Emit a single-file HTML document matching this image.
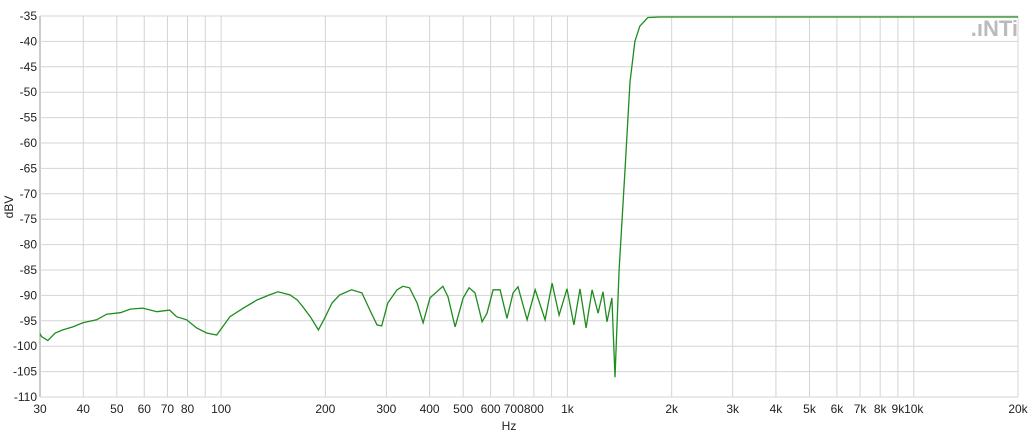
<!DOCTYPE html>
<html><head><meta charset="utf-8"><style>
body{margin:0;background:#fff;}
svg text{font-family:"Liberation Sans",sans-serif;font-size:12px;fill:#222;}
</style></head><body>
<svg id="chart" width="1034" height="438" xmlns="http://www.w3.org/2000/svg">
<g id="grid"></g>
<g id="xt"></g>
<g id="yt"></g>
<text x="509" y="430" text-anchor="middle">Hz</text>
<text transform="translate(13,207) rotate(-90)" text-anchor="middle">dBV</text>
<text x="1018" y="36" text-anchor="end" style="font-size:22px;font-weight:bold;fill:#bbb;">.ıNTi</text>
<path id="line" fill="none" stroke="#1e8c1e" stroke-width="1.3"/>
</svg>
<script>
const freqs=[30,30.3,31.6,33.2,34.9,37.3,39.9,43.7,46.7,51.2,54.7,59.4,65.3,71,74.4,79.5,85,90.8,97.1,101,106,116,127,138,146,158,166,172,181,191,199,209,220,238,255,269,282,291,303,322,335,350,368,383,401,437,452,474,500,520,541,567,586,610,639,669,697,720,765,807,862,903,946,997,1044,1087,1132,1178,1226,1267,1301,1344,1372,1410,1467,1516,1566,1618,1708,1850,20000];
const dbv=[-97.5,-98.1,-98.9,-97.4,-96.8,-96.2,-95.4,-94.8,-93.7,-93.4,-92.7,-92.5,-93.2,-92.9,-94.2,-94.8,-96.4,-97.4,-97.8,-96.2,-94.2,-92.5,-90.9,-89.9,-89.3,-89.9,-90.9,-92.2,-94.2,-96.8,-94.5,-91.5,-89.9,-88.9,-89.5,-92.9,-95.8,-96,-91.5,-88.9,-88.2,-88.5,-91.5,-95.4,-90.5,-88.2,-90.3,-96.2,-90.5,-88.5,-89.5,-95.2,-93.5,-88.9,-88.9,-94.5,-89.5,-88.3,-94.8,-88.9,-94.8,-87.6,-93.9,-88.7,-95.8,-88.7,-96.4,-88.9,-93.5,-89.3,-95.2,-90.5,-106.1,-85,-65,-48,-40,-37,-35.3,-35.2,-35.2];
const xTickVals=[30,40,50,60,70,80,90,100,200,300,400,500,600,700,800,900,1000,2000,3000,4000,5000,6000,7000,8000,9000,10000,20000];
const xTickLabels=["30","40","50","60","70","80","","100","200","300","400","500","600","700","800","","1k","2k","3k","4k","5k","6k","7k","8k","9k","10k","20k"];
const yTicks=[-35,-40,-45,-50,-55,-60,-65,-70,-75,-80,-85,-90,-95,-100,-105,-110];
const X0=40,X1=1018,Y0=16,Y1=397;
function xs(f){return X0+Math.log10(f/30)/Math.log10(20000/30)*(X1-X0);}
function ys(v){return Y0+(-35-v)/75*(Y1-Y0);}
const NS="http://www.w3.org/2000/svg";
const grid=document.getElementById('grid'),xt=document.getElementById('xt'),yt=document.getElementById('yt');
xTickVals.forEach((f,i)=>{
 const l=document.createElementNS(NS,'line');
 
 
 const x=xs(f);
 l.setAttribute('x1',x);l.setAttribute('x2',x);l.setAttribute('y1',Y0);l.setAttribute('y2',Y1);
 l.setAttribute('stroke',(i==0)?'#999':'#d4d4d4');l.setAttribute('stroke-width','1');
 grid.appendChild(l);
 if(xTickLabels[i]){
 const t=document.createElementNS(NS,'text');
 
 
 t.setAttribute('x',x);t.setAttribute('y',413);t.setAttribute('text-anchor','middle');
 t.textContent=xTickLabels[i];xt.appendChild(t);}
});
yTicks.forEach(v=>{
 const l=document.createElementNS(NS,'line');
 
 
 const y=ys(v);
 l.setAttribute('x1',X0);l.setAttribute('x2',X1);l.setAttribute('y1',y);l.setAttribute('y2',y);
 l.setAttribute('stroke','#d4d4d4');l.setAttribute('stroke-width','1');
 grid.appendChild(l);
 const t=document.createElementNS(NS,'text');
 
 
 t.setAttribute('x',37);t.setAttribute('y',y+4);t.setAttribute('text-anchor','end');
 t.textContent=v;yt.appendChild(t);
});
document.getElementById('line').setAttribute('d',freqs.map((f,i)=>(i?'L':'M')+xs(f).toFixed(1)+','+ys(dbv[i]).toFixed(1)).join(''));
</script>
</body></html>
